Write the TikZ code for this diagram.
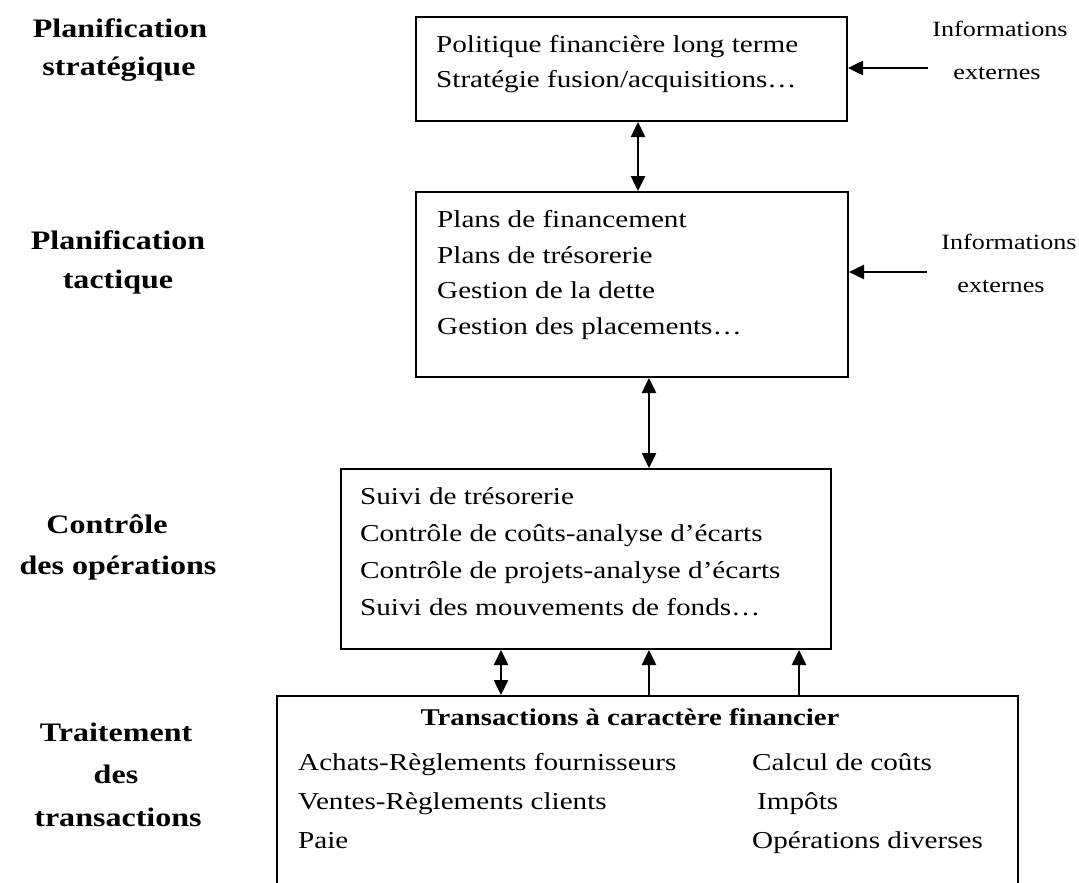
\documentclass[tikz,border=0pt]{standalone}
\usepackage{fontspec}
\setmainfont{Liberation Serif}[FakeStretch=1.2]
\usetikzlibrary{arrows.meta}

\begin{document}
\begin{tikzpicture}[x=1pt,y=-1pt,
  box/.style={draw, line width=2pt, rectangle, inner sep=0pt},
  txt/.style={anchor=base west, inner sep=0pt, font=\fontsize{24.3}{24.3}\selectfont},
  ext/.style={anchor=base, inner sep=0pt, font=\fontsize{21.8}{21.8}\selectfont},
  lbl/.style={anchor=base, inner sep=0pt, font=\fontsize{26.7}{26.7}\selectfont\bfseries},
  ttl/.style={anchor=base, inner sep=0pt, font=\fontsize{24}{24}\selectfont\bfseries},
  link/.style={line width=2.5pt, {Triangle[length=15pt,width=14pt]}-{Triangle[length=15pt,width=14pt]}},
  feed/.style={line width=2.5pt, -{Triangle[length=15pt,width=14pt]}},
]
\clip (0,0) rectangle (1079,883);

% level boxes
\node[box, minimum width=431pt, minimum height=104pt] (b1) at (631.5,69) {};
\node[box, minimum width=432pt, minimum height=185pt] (b2) at (632,284.5) {};
\node[box, minimum width=490pt, minimum height=180pt] (b3) at (586,559) {};
\node[box, minimum width=741pt, minimum height=204pt] (b4) at (647.5,798) {};

% level labels
\node[lbl] (l1a) at (120,38) {Planification};
\node[lbl] (l1b) at (119,76) {stratégique};
\node[lbl] (l2a) at (118,249) {Planification};
\node[lbl] (l2b) at (118,288) {tactique};
\node[lbl] (l3a) at (107,533) {Contrôle};
\node[lbl] (l3b) at (118,574) {des opérations};
\node[lbl] (l4a) at (116,741) {Traitement};
\node[lbl] (l4b) at (116,783) {des};
\node[lbl] (l4c) at (118,826) {transactions};

% box contents
\node[txt] (t11) at (436,53) {Politique financière long terme};
\node[txt] (t12) at (436,88) {Stratégie fusion/acquisitions…};

\node[txt] (t21) at (437,227) {Plans de financement};
\node[txt] (t22) at (437,263) {Plans de trésorerie};
\node[txt] (t23) at (437,298) {Gestion de la dette};
\node[txt] (t24) at (437,334) {Gestion des placements…};

\node[txt] (t31) at (360,504) {Suivi de trésorerie};
\node[txt] (t32) at (360,541) {Contrôle de coûts-analyse d’écarts};
\node[txt] (t33) at (360,578) {Contrôle de projets-analyse d’écarts};
\node[txt] (t34) at (360,615) {Suivi des mouvements de fonds…};

\node[ttl] (t40) at (630,725) {Transactions à caractère financier};
\node[txt] (t41) at (298,770) {Achats-Règlements fournisseurs};
\node[txt] (t42) at (298,809) {Ventes-Règlements clients};
\node[txt] (t43) at (298,848) {Paie};
\node[txt] (t44) at (752,770) {Calcul de coûts};
\node[txt] (t45) at (757,809) {Impôts};
\node[txt] (t46) at (752,848) {Opérations diverses};

% external information
\node[ext] (e1a) at (1000,37) {Informations};
\node[ext] (e1b) at (997,80) {externes};
\node[ext] (e2a) at (1009,249) {Informations};
\node[ext] (e2b) at (1001,292) {externes};

\coordinate (f1) at (928,68);
\coordinate (f2) at (927,272);
\draw[feed] (f1) -- (f1 -| b1.east);
\draw[feed] (f2) -- (f2 -| b2.east);

% links between levels
\coordinate (x12) at (638,0);
\coordinate (x23) at (649,0);
\coordinate (x34a) at (501,0);
\coordinate (x34b) at (649,0);
\coordinate (x34c) at (799,0);
\draw[link] (b1.south -| x12) -- (b2.north -| x12);
\draw[link] (b2.south -| x23) -- (b3.north -| x23);
\draw[link] (b3.south -| x34a) -- (b4.north -| x34a);
\draw[feed] (b4.north -| x34b) -- (b3.south -| x34b);
\draw[feed] (b4.north -| x34c) -- (b3.south -| x34c);
\end{tikzpicture}
\end{document}
